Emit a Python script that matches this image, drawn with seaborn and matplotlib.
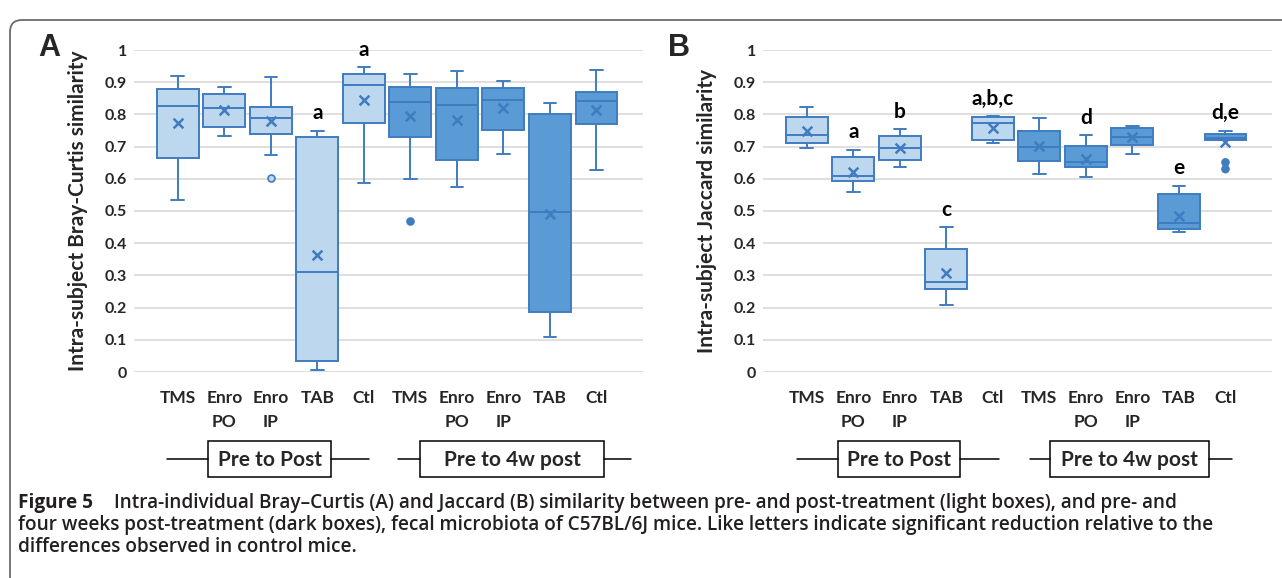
import numpy as np
import pandas as pd
import matplotlib.pyplot as plt
import seaborn as sns
from matplotlib.patches import FancyBboxPatch, Rectangle
from matplotlib.lines import Line2D
from matplotlib.transforms import IdentityTransform

# categories: 5 treatments, first pre->post (light), then pre->4w post (dark)
treatments = ["TMS", "Enro\nPO", "Enro\nIP", "TAB", "Ctl"]
periods = ["Pre to Post", "Pre to 4w post"]

# Bray-Curtis (panel A): whisker low, Q1, median, Q3, whisker high, mean
bc_low = [0.534, 0.734, 0.674, 0.006, 0.586, 0.598, 0.573, 0.677, 0.109, 0.628]
bc_q1 = [0.664, 0.762, 0.738, 0.035, 0.774, 0.729, 0.657, 0.752, 0.187, 0.769]
bc_med = [0.826, 0.819, 0.788, 0.311, 0.890, 0.837, 0.828, 0.846, 0.497, 0.842]
bc_q3 = [0.879, 0.863, 0.824, 0.731, 0.927, 0.884, 0.882, 0.881, 0.802, 0.870]
bc_high = [0.919, 0.884, 0.915, 0.749, 0.948, 0.925, 0.935, 0.904, 0.835, 0.938]
bc_mean = [0.773, 0.815, 0.779, 0.363, 0.845, 0.794, 0.782, 0.821, 0.490, 0.814]
bc_out_box = [2, 5]
bc_out_val = [0.603, 0.469]
bc_letters = [(3, 0.804, "a"), (4, 1.0, "a")]

# Jaccard (panel B)
jc_low = [0.695, 0.558, 0.638, 0.208, 0.712, 0.615, 0.605, 0.677, 0.434, 0.719]
jc_q1 = [0.712, 0.593, 0.658, 0.257, 0.722, 0.656, 0.638, 0.705, 0.443, 0.719]
jc_med = [0.736, 0.609, 0.695, 0.280, 0.772, 0.700, 0.651, 0.731, 0.462, 0.728]
jc_q3 = [0.793, 0.669, 0.733, 0.381, 0.791, 0.749, 0.703, 0.759, 0.552, 0.739]
jc_high = [0.822, 0.689, 0.755, 0.450, 0.795, 0.788, 0.736, 0.764, 0.579, 0.749]
jc_mean = [0.748, 0.620, 0.695, 0.306, 0.759, 0.703, 0.663, 0.729, 0.484, 0.715]
jc_out_box = [9, 9]
jc_out_val = [0.651, 0.630]
jc_letters = [(1, 0.745, "a"), (2, 0.807, "b"), (3, 0.503, "c"), (4, 0.848, "a,b,c"),
              (6, 0.789, "d"), (8, 0.634, "e"), (9, 0.804, "d,e")]

light = "#bdd7ee"
dark = "#5b9bd5"
edge = "#3f7cc0"
grid = "#d9d9d9"

keys = [f"{t}|{p}" for p in periods for t in treatments]
box_period = [p for p in periods for t in treatments]

sns.set_style("white")
plt.rcParams["font.family"] = ["Lato", "DejaVu Sans"]

fig = plt.figure(figsize=(12.82, 5.78), dpi=100)
W, H = 1282, 578


def fx(px):
    return px / W


def fy(py):
    return 1 - py / H


def draw_panel(ax, low, q1, med, q3, high, mean, out_box, out_val, letters, ylabel):
    rows = []
    for i in range(10):
        for v in (low[i], q1[i], med[i], q3[i], high[i]):
            rows.append({"box": keys[i], "period": box_period[i], "value": v})
    df = pd.DataFrame(rows)

    sns.boxplot(data=df, x="box", y="value", hue="period", order=keys,
                hue_order=periods, palette={periods[0]: light, periods[1]: dark},
                saturation=1, dodge=False, width=0.9, whis=(0, 100),
                showfliers=False, linecolor=edge, linewidth=1.4, legend=False,
                ax=ax, capwidths=0.27)

    # means
    sns.stripplot(x=keys, y=mean, order=keys, jitter=False, marker="x",
                  color=edge, size=7, linewidth=1.8, ax=ax, zorder=5)
    # outliers
    sns.stripplot(x=[keys[i] for i in out_box], y=out_val, order=keys,
                  hue=[box_period[i] for i in out_box], hue_order=periods,
                  palette={periods[0]: light, periods[1]: edge},
                  jitter=False, size=5, linewidth=1.2, edgecolor=edge,
                  legend=False, ax=ax, zorder=5)

    for i, y, lab in letters:
        ax.text(i, y, lab, ha="center", va="center", fontsize=15,
                fontweight="bold", color="black", clip_on=False)

    ax.set_xlim(-0.94, 10.0)
    ax.set_ylim(0, 1)
    ax.set_yticks(np.round(np.arange(0, 1.01, 0.1), 1))
    ax.set_yticklabels(["0"] + [f"{v:.1f}" for v in np.arange(0.1, 0.95, 0.1)] + ["1"],
                       fontsize=11.5, fontweight="bold")
    ax.set_xticks(range(10))
    ax.set_xticklabels(treatments * 2, fontsize=12.5, fontweight="bold",
                       linespacing=1.6, va="top")
    ax.tick_params(axis="x", length=0, pad=13)
    ax.tick_params(axis="y", length=0, pad=5)
    ax.yaxis.grid(True, color=grid, linewidth=1.2)
    ax.set_axisbelow(True)
    for s in ax.spines.values():
        s.set_visible(False)
    ax.set_xlabel("")
    ax.set_ylabel(ylabel, fontsize=15, fontweight="bold")
    ax.yaxis.set_label_coords(-0.091, 0.5)


axA = fig.add_axes([fx(134), fy(372), fx(643 - 134), fy(50) - fy(372)])
axB = fig.add_axes([fx(763), fy(372), fx(1272 - 763), fy(50) - fy(372)])

draw_panel(axA, bc_low, bc_q1, bc_med, bc_q3, bc_high, bc_mean, bc_out_box,
           bc_out_val, bc_letters, "Intra-subject Bray-Curtis similarity")
draw_panel(axB, jc_low, jc_q1, jc_med, jc_q3, jc_high, jc_mean, jc_out_box,
           jc_out_val, jc_letters, "Intra-subject Jaccard similarity")

fig.text(fx(49), fy(48), "A", fontsize=22, fontweight="bold",
         family="Liberation Sans", ha="center", va="center")
fig.text(fx(679), fy(48), "B", fontsize=22, fontweight="bold",
         family="Liberation Sans", ha="center", va="center")

# group brackets under the axes: (line start, box left, box right, line end)
groups = [(167, 208, 331, 369, "Pre to Post"), (398, 420, 604, 631, "Pre to 4w post"),
          (797, 838, 960, 999, "Pre to Post"), (1030, 1050, 1209, 1232, "Pre to 4w post")]
y_top, y_bot = 441, 477
ymid = (y_top + y_bot) / 2
for x0, b0, b1, x1, lab in groups:
    fig.add_artist(Line2D([fx(x0), fx(b0)], [fy(ymid), fy(ymid)], color="black", lw=1.1))
    fig.add_artist(Line2D([fx(b1), fx(x1)], [fy(ymid), fy(ymid)], color="black", lw=1.1))
    fig.add_artist(Rectangle((fx(b0), fy(y_bot)), fx(b1 - b0), fy(y_top) - fy(y_bot),
                             fill=False, edgecolor="black", lw=1.1,
                             transform=fig.transFigure))
    fig.text(fx((b0 + b1) / 2), fy(ymid + 1), lab, ha="center", va="center",
             fontsize=15, fontweight="bold")

# rounded frame of the figure box
frame = FancyBboxPatch((10, -30), 1320, H - 10 + 30 - 10,
                       boxstyle="round,pad=0,rounding_size=12",
                       fill=False, edgecolor="#6b6b6b", lw=1.3,
                       transform=IdentityTransform())
fig.add_artist(frame)

cap_kw = dict(fontsize=13.7, color="#231f20", ha="left", va="center",
              family=["Open Sans", "DejaVu Sans"])
fig.text(fx(18), fy(503), "Figure 5", fontweight="bold", **cap_kw)
fig.text(fx(114), fy(503),
         "Intra-individual Bray\u2013Curtis (A) and Jaccard (B) similarity between "
         "pre- and post-treatment (light boxes), and pre- and", fontweight="semibold",
         **cap_kw)
fig.text(fx(18), fy(525),
         "four weeks post-treatment (dark boxes), fecal microbiota of C57BL/6J mice. "
         "Like letters indicate significant reduction relative to the",
         fontweight="semibold", **cap_kw)
fig.text(fx(18), fy(547), "differences observed in control mice.",
         fontweight="semibold", **cap_kw)

fig.savefig("out.png", dpi=100)
